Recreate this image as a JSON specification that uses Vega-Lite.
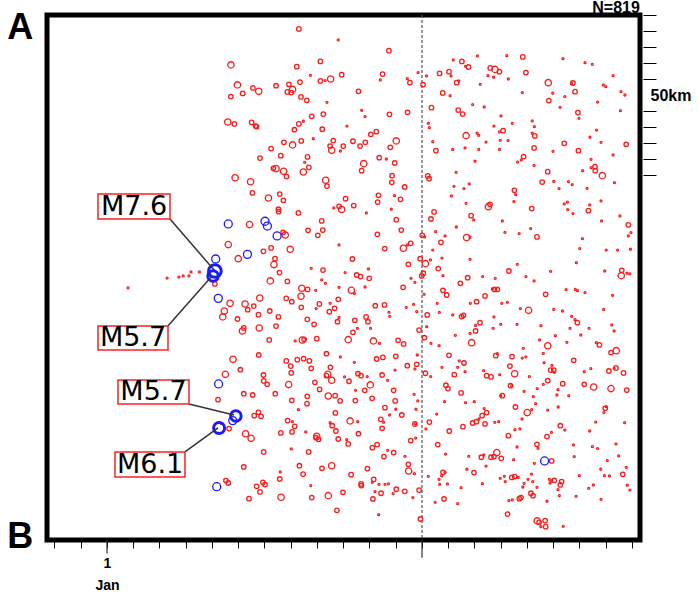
{
"$schema":"https://vega.github.io/schema/vega-lite/v6.json",
"width":593,"height":525,
"autosize":"none",
"padding":{"left":47,"top":15,"right":59,"bottom":59},
"config":{"view":{"stroke":"black","strokeWidth":5},"font":"Liberation Sans"},
"datasets":{
"quakes":[
{"day":7.31,"km":8.7,"mag":2},{"day":8.81,"km":15.6,"mag":1},{"day":10.74,"km":22.3,"mag":2},{"day":4.72,"km":31.2,"mag":2.6},{"day":7.23,"km":32.3,"mag":2},{"day":8.13,"km":29.0,"mag":2},{"day":7.75,"km":37.7,"mag":1},{"day":8.94,"km":37.3,"mag":2},{"day":10.50,"km":36.9,"mag":2},{"day":10.41,"km":40.6,"mag":1},{"day":11.85,"km":36.0,"mag":1},{"day":11.44,"km":39.8,"mag":1},{"day":11.54,"km":42.3,"mag":2},{"day":12.04,"km":43.5,"mag":2},{"day":4.97,"km":43.7,"mag":2.6},{"day":5.56,"km":45.6,"mag":2},{"day":5.78,"km":47.7,"mag":2.6},{"day":6.44,"km":44.2,"mag":2},{"day":6.93,"km":43.3,"mag":2},{"day":7.07,"km":46.5,"mag":2.6},{"day":6.87,"km":48.1,"mag":2},{"day":7.02,"km":48.5,"mag":2},{"day":7.35,"km":41.9,"mag":2},{"day":8.13,"km":41.2,"mag":2},{"day":8.31,"km":41.0,"mag":1},{"day":8.52,"km":40.0,"mag":2.6},{"day":9.58,"km":47.7,"mag":2},{"day":4.72,"km":51.0,"mag":2},{"day":5.17,"km":49.0,"mag":2},{"day":7.39,"km":51.2,"mag":2},{"day":7.61,"km":53.3,"mag":2},{"day":8.38,"km":54.6,"mag":1},{"day":9.70,"km":59.6,"mag":1},{"day":9.83,"km":63.5,"mag":1},{"day":10.76,"km":62.1,"mag":2},{"day":11.45,"km":60.8,"mag":2},{"day":4.60,"km":66.9,"mag":2.6},{"day":4.85,"km":68.1,"mag":2},{"day":5.51,"km":67.1,"mag":2},{"day":5.66,"km":69.4,"mag":2},{"day":5.70,"km":69.8,"mag":2},{"day":7.80,"km":63.3,"mag":2},{"day":8.24,"km":61.9,"mag":2},{"day":7.31,"km":68.1,"mag":2},{"day":7.48,"km":66.4,"mag":1},{"day":7.14,"km":71.7,"mag":2},{"day":8.20,"km":71.4,"mag":2},{"day":9.14,"km":69.4,"mag":1},{"day":10.05,"km":74.6,"mag":2},{"day":10.26,"km":72.9,"mag":2},{"day":11.02,"km":78.7,"mag":2.6},{"day":6.25,"km":83.5,"mag":2},{"day":6.74,"km":79.6,"mag":2},{"day":7.07,"km":81.2,"mag":2.6},{"day":7.40,"km":78.7,"mag":2},{"day":7.86,"km":77.3,"mag":1},{"day":8.62,"km":78.5,"mag":2},{"day":8.50,"km":81.9,"mag":2},{"day":8.56,"km":84.6,"mag":2.6},{"day":8.89,"km":85.0,"mag":1},{"day":9.00,"km":81.9,"mag":2},{"day":9.37,"km":78.9,"mag":2},{"day":9.64,"km":81.9,"mag":2},{"day":9.84,"km":79.6,"mag":2},{"day":10.79,"km":82.7,"mag":2},{"day":5.83,"km":89.4,"mag":2},{"day":6.62,"km":87.9,"mag":2},{"day":7.64,"km":88.7,"mag":2},{"day":7.53,"km":92.1,"mag":1},{"day":7.69,"km":95.2,"mag":2},{"day":6.34,"km":95.8,"mag":2},{"day":6.44,"km":96.0,"mag":2.6},{"day":6.73,"km":97.7,"mag":2.6},{"day":6.84,"km":101.0,"mag":2},{"day":7.48,"km":98.1,"mag":2.6},{"day":9.78,"km":92.9,"mag":2.6},{"day":9.70,"km":97.3,"mag":2},{"day":10.37,"km":89.2,"mag":2},{"day":10.64,"km":90.0,"mag":1},{"day":10.96,"km":92.5,"mag":2},{"day":4.88,"km":101.7,"mag":2.6},{"day":5.47,"km":104.2,"mag":2.6},{"day":8.33,"km":103.3,"mag":2.6},{"day":8.38,"km":106.9,"mag":2},{"day":10.86,"km":100.4,"mag":2},{"day":10.85,"km":104.6,"mag":2},{"day":11.34,"km":107.5,"mag":2},{"day":5.54,"km":111.2,"mag":2},{"day":6.15,"km":114.4,"mag":2.6},{"day":6.58,"km":111.9,"mag":2},{"day":6.72,"km":115.8,"mag":2},{"day":9.09,"km":114.8,"mag":2},{"day":8.84,"km":119.6,"mag":2},{"day":8.94,"km":121.6,"mag":2.6},{"day":8.64,"km":120.6,"mag":1},{"day":9.40,"km":119.1,"mag":2},{"day":9.88,"km":123.7,"mag":1},{"day":10.34,"km":112.7,"mag":2},{"day":10.31,"km":116.9,"mag":2},{"day":10.95,"km":112.9,"mag":1},{"day":11.18,"km":115.2,"mag":2},{"day":10.83,"km":121.4,"mag":1},{"day":6.53,"km":121.4,"mag":2},{"day":6.54,"km":122.9,"mag":2},{"day":7.29,"km":123.7,"mag":2},
{"day":5.43,"km":131.0,"mag":2.6},{"day":6.71,"km":135.8,"mag":2},{"day":6.79,"km":137.5,"mag":2.6},{"day":8.18,"km":128.7,"mag":2},{"day":8.22,"km":134.4,"mag":2},{"day":7.66,"km":134.6,"mag":2},{"day":8.03,"km":137.7,"mag":2},{"day":11.02,"km":127.9,"mag":2},{"day":11.21,"km":134.4,"mag":2},{"day":10.30,"km":137.1,"mag":2},{"day":4.62,"km":143.5,"mag":2.6},{"day":5.00,"km":152.3,"mag":2.6},{"day":5.96,"km":147.7,"mag":2},{"day":6.25,"km":145.6,"mag":2},{"day":6.98,"km":146.4,"mag":2.6},{"day":6.40,"km":152.3,"mag":2},{"day":6.36,"km":156.0,"mag":2.6},{"day":8.84,"km":143.7,"mag":1},{"day":9.35,"km":152.5,"mag":2},{"day":10.58,"km":146.0,"mag":2},{"day":11.29,"km":145.8,"mag":2.6},{"day":11.44,"km":143.7,"mag":1},{"day":11.57,"km":142.7,"mag":2},{"day":11.93,"km":152.3,"mag":2},{"day":11.48,"km":155.8,"mag":2},{"day":3.52,"km":160.6,"mag":1},{"day":7.78,"km":158.3,"mag":1},{"day":8.23,"km":159.4,"mag":2},{"day":9.07,"km":161.0,"mag":1},{"day":9.96,"km":158.7,"mag":1},{"day":6.57,"km":161.0,"mag":2},{"day":12.05,"km":161.4,"mag":2},
{"day":14.11,"km":25.6,"mag":1},{"day":15.23,"km":25.4,"mag":1},{"day":15.84,"km":26.2,"mag":2},{"day":17.37,"km":27.3,"mag":1},{"day":18.21,"km":29.8,"mag":1},{"day":18.49,"km":30.8,"mag":1},{"day":13.19,"km":28.1,"mag":1},{"day":13.52,"km":29.0,"mag":2},{"day":13.66,"km":32.1,"mag":1},{"day":13.77,"km":32.5,"mag":2},{"day":14.60,"km":33.1,"mag":2},{"day":14.78,"km":34.0,"mag":2.6},{"day":14.95,"km":35.4,"mag":2},{"day":12.17,"km":38.1,"mag":1},{"day":12.67,"km":36.5,"mag":2},{"day":13.03,"km":35.4,"mag":2},{"day":13.11,"km":38.1,"mag":1},{"day":14.51,"km":37.9,"mag":1},{"day":14.73,"km":38.9,"mag":1},{"day":15.29,"km":40.0,"mag":1},{"day":15.96,"km":36.0,"mag":2},{"day":13.32,"km":42.3,"mag":2},{"day":13.40,"km":41.2,"mag":1},{"day":14.22,"km":43.3,"mag":1},{"day":16.81,"km":42.3,"mag":2.6},{"day":17.70,"km":42.9,"mag":1},{"day":17.75,"km":42.5,"mag":2},{"day":19.28,"km":37.9,"mag":1},{"day":18.91,"km":43.7,"mag":1},{"day":19.00,"km":44.8,"mag":1},{"day":12.79,"km":48.7,"mag":2},{"day":13.07,"km":50.4,"mag":1},{"day":15.82,"km":48.5,"mag":1},{"day":16.98,"km":48.9,"mag":1},{"day":17.44,"km":51.0,"mag":1},{"day":17.83,"km":47.9,"mag":2},{"day":19.58,"km":47.9,"mag":1},{"day":19.73,"km":50.0,"mag":1},{"day":12.36,"km":57.9,"mag":2},{"day":13.38,"km":59.4,"mag":2},{"day":13.55,"km":61.9,"mag":2},{"day":13.93,"km":56.0,"mag":1},{"day":14.37,"km":57.5,"mag":1},{"day":16.83,"km":53.5,"mag":2},{"day":17.26,"km":57.7,"mag":1},{"day":17.94,"km":61.0,"mag":2},{"day":17.98,"km":64.6,"mag":1},{"day":18.69,"km":54.4,"mag":1},{"day":19.56,"km":59.8,"mag":1},{"day":15.01,"km":63.1,"mag":1},{"day":12.24,"km":67.7,"mag":1},{"day":12.28,"km":70.4,"mag":1},{"day":14.74,"km":69.4,"mag":1},{"day":15.09,"km":72.3,"mag":2},{"day":14.95,"km":73.1,"mag":1},{"day":15.44,"km":67.7,"mag":1},{"day":16.20,"km":66.2,"mag":1},{"day":16.28,"km":69.8,"mag":1},{"day":16.20,"km":73.9,"mag":1},{"day":16.30,"km":75.6,"mag":2},{"day":13.68,"km":75.4,"mag":2.6},{"day":14.10,"km":73.9,"mag":1},{"day":14.16,"km":75.2,"mag":1},{"day":12.41,"km":79.2,"mag":1},{"day":14.44,"km":79.4,"mag":1},{"day":14.98,"km":78.3,"mag":1},{"day":15.28,"km":78.5,"mag":1},{"day":18.65,"km":71.9,"mag":1},{"day":18.40,"km":76.4,"mag":1},{"day":18.82,"km":79.6,"mag":1},{"day":19.78,"km":80.8,"mag":2},{"day":17.42,"km":80.2,"mag":2},{"day":12.53,"km":84.8,"mag":2},{"day":13.17,"km":84.0,"mag":1},{"day":13.64,"km":83.1,"mag":1},{"day":14.16,"km":84.0,"mag":1},{"day":14.95,"km":84.0,"mag":1},{"day":16.27,"km":83.1,"mag":2},{"day":16.99,"km":85.2,"mag":1},{"day":17.96,"km":84.8,"mag":2},{"day":14.02,"km":91.4,"mag":1},{"day":15.64,"km":91.9,"mag":1},{"day":15.78,"km":90.6,"mag":1},{"day":15.87,"km":88.5,"mag":2},{"day":16.27,"km":94.0,"mag":1},{"day":18.44,"km":90.2,"mag":1},{"day":19.28,"km":87.5,"mag":1},{"day":18.59,"km":94.8,"mag":2},{"day":18.60,"km":97.3,"mag":2},{"day":18.44,"km":95.4,"mag":1},{"day":18.87,"km":100.4,"mag":2.6},{"day":12.22,"km":100.6,"mag":2},{"day":12.27,"km":102.3,"mag":2},{"day":13.30,"km":98.3,"mag":1},{"day":16.79,"km":97.9,"mag":2},{"day":16.58,"km":104.4,"mag":2},{"day":17.02,"km":104.0,"mag":1},{"day":17.58,"km":104.2,"mag":1},{"day":17.72,"km":106.0,"mag":1},{"day":18.12,"km":97.3,"mag":1},{"day":19.33,"km":104.8,"mag":1},{"day":13.22,"km":107.1,"mag":1},{"day":13.60,"km":108.5,"mag":1},{"day":13.80,"km":105.6,"mag":1},{"day":13.12,"km":113.1,"mag":1},{"day":15.52,"km":109.6,"mag":2},{"day":15.57,"km":112.3,"mag":1},{"day":17.22,"km":108.5,"mag":1},{"day":18.29,"km":108.3,"mag":1},{"day":13.68,"km":117.7,"mag":1},{"day":14.59,"km":118.3,"mag":2},{"day":14.53,"km":119.8,"mag":2.6},{"day":15.50,"km":116.6,"mag":1},{"day":16.18,"km":121.0,"mag":2},{"day":17.42,"km":118.1,"mag":1},{"day":17.54,"km":116.9,"mag":1},{"day":17.55,"km":121.6,"mag":1},{"day":17.75,"km":124.1,"mag":1},{"day":18.34,"km":122.3,"mag":2},{"day":18.39,"km":118.7,"mag":1},{"day":18.82,"km":116.2,"mag":1},{"day":12.46,"km":123.1,"mag":2},{"day":12.34,"km":127.5,"mag":2},{"day":13.87,"km":125.4,"mag":2},{"day":13.97,"km":128.1,"mag":1},{"day":15.06,"km":128.7,"mag":1},{"day":13.31,"km":132.5,"mag":1},{"day":16.14,"km":133.5,"mag":1},{"day":18.84,"km":128.7,"mag":1},{"day":19.54,"km":125.6,"mag":1},{"day":19.86,"km":131.2,"mag":2},{"day":12.52,"km":135.4,"mag":1},{"day":12.01,"km":137.7,"mag":2},{"day":12.10,"km":138.7,"mag":1},{"day":12.88,"km":138.1,"mag":1},{"day":12.72,"km":142.1,"mag":2},{"day":13.70,"km":139.1,"mag":2.6},{"day":13.83,"km":138.9,"mag":1},{"day":15.16,"km":135.8,"mag":1},{"day":15.70,"km":136.6,"mag":1},{"day":16.38,"km":138.7,"mag":2},{"day":18.11,"km":139.8,"mag":1},{"day":19.96,"km":136.0,"mag":1},{"day":19.86,"km":138.1,"mag":1},{"day":12.41,"km":146.9,"mag":1},{"day":18.01,"km":146.0,"mag":1},{"day":19.02,"km":146.9,"mag":1},{"day":19.45,"km":146.9,"mag":1},{"day":19.94,"km":146.4,"mag":1},{"day":12.76,"km":151.9,"mag":1},{"day":13.83,"km":152.7,"mag":1},{"day":12.13,"km":155.4,"mag":2.6},{"day":12.32,"km":153.1,"mag":1},{"day":15.63,"km":155.8,"mag":1},{"day":17.88,"km":154.8,"mag":1},{"day":12.62,"km":158.5,"mag":2},{"day":15.31,"km":160.0,"mag":2},{"day":16.90,"km":160.2,"mag":1},{"day":18.96,"km":160.0,"mag":1},{"day":19.61,"km":159.6,"mag":2},{"day":19.81,"km":161.4,"mag":1},{"day":19.92,"km":161.8,"mag":1},
{"day":4.11,"km":168.1,"mag":2},{"day":6.22,"km":166.2,"mag":2.6},{"day":6.87,"km":166.5,"mag":2},{"day":8.18,"km":165.6,"mag":1},{"day":8.32,"km":167.7,"mag":1},{"day":9.51,"km":162.5,"mag":2},{"day":9.66,"km":163.5,"mag":2},{"day":9.99,"km":164.6,"mag":2},{"day":11.58,"km":164.6,"mag":1},{"day":11.73,"km":167.1,"mag":1},{"day":7.42,"km":170.8,"mag":2.6},{"day":7.64,"km":171.5,"mag":2},{"day":7.95,"km":172.1,"mag":1},{"day":8.84,"km":170.2,"mag":1},{"day":9.31,"km":172.1,"mag":2.6},{"day":9.42,"km":174.0,"mag":1},{"day":9.83,"km":170.0,"mag":1},{"day":11.28,"km":170.2,"mag":2},{"day":5.82,"km":176.9,"mag":2.6},{"day":6.83,"km":177.1,"mag":2},{"day":7.04,"km":179.2,"mag":2},{"day":7.39,"km":175.8,"mag":2.6},{"day":4.69,"km":180.2,"mag":2.6},{"day":5.26,"km":180.6,"mag":2.6},{"day":5.59,"km":181.9,"mag":2},{"day":5.36,"km":184.2,"mag":2},{"day":4.47,"km":185.0,"mag":2.6},{"day":4.41,"km":188.7,"mag":2.6},{"day":4.97,"km":190.0,"mag":2},{"day":5.77,"km":187.3,"mag":2},{"day":6.20,"km":185.0,"mag":2},{"day":6.53,"km":188.7,"mag":2},{"day":7.40,"km":182.7,"mag":2},{"day":7.97,"km":183.5,"mag":1},{"day":8.09,"km":180.6,"mag":2},{"day":8.50,"km":180.2,"mag":1},{"day":8.67,"km":183.3,"mag":2},{"day":8.81,"km":177.7,"mag":2},{"day":8.47,"km":185.4,"mag":2},{"day":8.84,"km":189.0,"mag":1},{"day":8.78,"km":191.7,"mag":2},{"day":9.44,"km":190.8,"mag":2},{"day":9.87,"km":188.7,"mag":2},{"day":9.94,"km":191.7,"mag":2},{"day":10.04,"km":195.8,"mag":1},{"day":9.54,"km":195.8,"mag":1},{"day":9.37,"km":198.3,"mag":2},{"day":10.22,"km":181.7,"mag":2},{"day":10.57,"km":181.2,"mag":2},{"day":10.74,"km":185.8,"mag":1},{"day":10.77,"km":188.3,"mag":1},{"day":11.40,"km":182.7,"mag":1},{"day":11.68,"km":180.8,"mag":1},{"day":11.80,"km":185.4,"mag":1},{"day":5.21,"km":195.6,"mag":2},{"day":5.16,"km":197.5,"mag":2.6},{"day":5.80,"km":195.6,"mag":2.6},{"day":6.44,"km":194.4,"mag":2},{"day":7.63,"km":190.2,"mag":2},{"day":7.89,"km":193.3,"mag":2},{"day":6.18,"km":203.1,"mag":2},{"day":7.17,"km":203.7,"mag":1},{"day":7.44,"km":203.1,"mag":2.6},{"day":7.51,"km":202.7,"mag":2},{"day":7.99,"km":202.3,"mag":2},{"day":9.19,"km":202.9,"mag":2.6},{"day":10.15,"km":203.7,"mag":2.6},{"day":10.38,"km":205.2,"mag":1},{"day":11.09,"km":203.3,"mag":2},{"day":11.30,"km":205.6,"mag":2},{"day":11.89,"km":196.9,"mag":2},{"day":4.80,"km":215.2,"mag":2.6},{"day":5.08,"km":221.7,"mag":2},{"day":4.51,"km":224.6,"mag":2.6},{"day":5.78,"km":212.5,"mag":2},{"day":5.96,"km":225.0,"mag":2},{"day":5.97,"km":228.7,"mag":2},{"day":6.10,"km":230.8,"mag":2},{"day":6.83,"km":216.2,"mag":2},{"day":7.00,"km":219.4,"mag":2},{"day":7.02,"km":223.7,"mag":2},{"day":7.25,"km":215.4,"mag":2},{"day":7.49,"km":214.8,"mag":2},{"day":7.71,"km":216.2,"mag":2},{"day":7.78,"km":220.8,"mag":2},{"day":8.36,"km":211.7,"mag":2},{"day":8.51,"km":220.2,"mag":2},{"day":8.41,"km":224.6,"mag":2.6},{"day":8.36,"km":225.4,"mag":2},{"day":8.56,"km":228.3,"mag":2.6},{"day":8.89,"km":213.7,"mag":1},{"day":9.05,"km":226.2,"mag":1},{"day":9.22,"km":228.9,"mag":2},{"day":9.56,"km":224.2,"mag":2},{"day":9.68,"km":225.4,"mag":2},{"day":9.91,"km":226.0,"mag":1},{"day":9.42,"km":217.1,"mag":1},{"day":10.27,"km":215.0,"mag":2},{"day":10.51,"km":214.0,"mag":2},{"day":11.00,"km":213.3,"mag":2},{"day":10.48,"km":225.0,"mag":2},{"day":10.69,"km":228.3,"mag":1},{"day":10.97,"km":221.9,"mag":1},{"day":11.44,"km":219.2,"mag":2},{"day":11.80,"km":218.3,"mag":2},{"day":11.82,"km":212.5,"mag":1},{"day":11.73,"km":221.2,"mag":1},{"day":4.23,"km":240.4,"mag":2},{"day":5.21,"km":236.7,"mag":2},{"day":5.55,"km":237.5,"mag":2},{"day":6.41,"km":236.7,"mag":2},{"day":6.92,"km":231.0,"mag":2.6},{"day":7.92,"km":229.6,"mag":2},{"day":8.10,"km":234.0,"mag":2},{"day":7.63,"km":238.3,"mag":2},{"day":7.62,"km":242.9,"mag":2},{"day":7.04,"km":240.8,"mag":2},{"day":7.29,"km":246.7,"mag":1},{"day":8.43,"km":238.1,"mag":2.6},{"day":8.69,"km":237.9,"mag":2},{"day":8.88,"km":241.2,"mag":2},{"day":9.47,"km":234.6,"mag":1},{"day":9.82,"km":234.6,"mag":2},{"day":10.03,"km":231.2,"mag":2.6},{"day":10.10,"km":239.6,"mag":2},{"day":9.46,"km":241.0,"mag":2},{"day":10.92,"km":234.6,"mag":2},{"day":10.98,"km":241.2,"mag":2},{"day":10.59,"km":245.4,"mag":2},{"day":11.00,"km":246.4,"mag":1},{"day":11.23,"km":250.0,"mag":2},{"day":10.77,"km":250.0,"mag":1},{"day":11.70,"km":237.1,"mag":1},{"day":11.84,"km":241.2,"mag":1},{"day":11.77,"km":246.4,"mag":1},
{"day":4.65,"km":258.5,"mag":2},{"day":4.36,"km":255.4,"mag":1},{"day":5.61,"km":250.4,"mag":2},{"day":5.77,"km":248.3,"mag":2},{"day":5.87,"km":250.8,"mag":2},{"day":5.28,"km":261.7,"mag":2.6},{"day":5.49,"km":264.6,"mag":2.6},{"day":5.97,"km":273.1,"mag":2},{"day":6.88,"km":253.5,"mag":2},{"day":7.06,"km":254.2,"mag":1},{"day":7.15,"km":257.1,"mag":2},{"day":6.62,"km":261.2,"mag":2},{"day":7.05,"km":260.6,"mag":2},{"day":7.57,"km":260.6,"mag":1},{"day":7.99,"km":263.3,"mag":2.6},{"day":8.06,"km":265.2,"mag":2},{"day":7.96,"km":264.2,"mag":2},{"day":7.68,"km":273.1,"mag":2},{"day":7.02,"km":271.2,"mag":1},{"day":8.70,"km":248.7,"mag":2},{"day":8.50,"km":254.8,"mag":1},{"day":8.58,"km":256.7,"mag":2},{"day":8.72,"km":260.0,"mag":2},{"day":8.81,"km":265.0,"mag":2},{"day":9.13,"km":265.4,"mag":1},{"day":9.19,"km":268.1,"mag":2},{"day":9.26,"km":253.7,"mag":2.6},{"day":9.55,"km":254.2,"mag":1},{"day":9.58,"km":261.7,"mag":2},{"day":10.11,"km":270.4,"mag":2},{"day":10.29,"km":268.5,"mag":2},{"day":10.43,"km":252.7,"mag":2},{"day":10.54,"km":254.6,"mag":1},{"day":10.48,"km":258.3,"mag":2},{"day":10.69,"km":272.1,"mag":1},{"day":10.92,"km":273.5,"mag":2},{"day":10.55,"km":276.0,"mag":2},{"day":11.35,"km":275.8,"mag":1},{"day":11.48,"km":280.8,"mag":2},{"day":11.49,"km":285.0,"mag":2.6},{"day":11.71,"km":286.7,"mag":1},{"day":11.57,"km":266.0,"mag":2},{"day":11.76,"km":264.4,"mag":1},{"day":11.73,"km":255.6,"mag":2},{"day":5.21,"km":282.5,"mag":2},{"day":6.60,"km":285.6,"mag":1},{"day":6.58,"km":290.0,"mag":2},{"day":7.33,"km":281.7,"mag":2},{"day":7.47,"km":286.9,"mag":2},{"day":8.19,"km":283.3,"mag":2},{"day":8.56,"km":281.7,"mag":2.6},{"day":9.30,"km":287.3,"mag":2},{"day":9.92,"km":283.5,"mag":2},{"day":10.16,"km":290.2,"mag":2},{"day":10.11,"km":292.1,"mag":1},{"day":9.68,"km":293.1,"mag":2},{"day":9.69,"km":294.1,"mag":2},{"day":10.36,"km":293.3,"mag":1},{"day":10.59,"km":293.3,"mag":1},{"day":10.72,"km":293.1,"mag":1},{"day":11.02,"km":296.4,"mag":2},{"day":10.90,"km":299.1,"mag":1},{"day":11.34,"km":297.7,"mag":2},{"day":10.44,"km":298.9,"mag":2},{"day":10.21,"km":297.9,"mag":1},{"day":10.13,"km":302.5,"mag":2},{"day":8.99,"km":298.3,"mag":2},{"day":8.43,"km":300.4,"mag":2.6},{"day":7.80,"km":301.6,"mag":2},{"day":7.76,"km":294.1,"mag":1},{"day":6.63,"km":301.4,"mag":2.6},{"day":5.70,"km":294.6,"mag":2},{"day":5.83,"km":298.1,"mag":2},{"day":5.94,"km":292.1,"mag":2},{"day":6.02,"km":293.5,"mag":2},{"day":5.41,"km":302.3,"mag":2},{"day":4.53,"km":291.0,"mag":2},{"day":4.62,"km":292.5,"mag":2},{"day":8.76,"km":309.6,"mag":2},{"day":10.35,"km":312.3,"mag":1},{"day":11.65,"km":301.6,"mag":1},{"day":11.94,"km":315.0,"mag":2},
{"day":11.99,"km":163.1,"mag":2},{"day":12.80,"km":162.9,"mag":1},{"day":13.46,"km":167.7,"mag":2},{"day":13.74,"km":164.2,"mag":2},{"day":14.31,"km":163.5,"mag":1},{"day":14.79,"km":164.6,"mag":1},{"day":15.96,"km":163.5,"mag":1},{"day":16.27,"km":166.2,"mag":1},{"day":19.59,"km":162.9,"mag":2.6},{"day":12.80,"km":172.1,"mag":2},{"day":12.94,"km":175.0,"mag":2},{"day":12.08,"km":174.6,"mag":1},{"day":12.58,"km":180.2,"mag":1},{"day":14.08,"km":179.2,"mag":2},{"day":14.40,"km":175.6,"mag":2},{"day":13.84,"km":180.2,"mag":1},{"day":14.68,"km":171.2,"mag":1},{"day":14.76,"km":171.5,"mag":2},{"day":14.87,"km":171.5,"mag":2},{"day":15.04,"km":180.2,"mag":1},{"day":15.25,"km":179.6,"mag":1},{"day":16.71,"km":174.6,"mag":2},{"day":17.49,"km":171.7,"mag":1},{"day":17.84,"km":171.5,"mag":1},{"day":17.92,"km":172.3,"mag":1},{"day":18.21,"km":173.5,"mag":1},{"day":19.26,"km":175.2,"mag":1},{"day":12.20,"km":187.5,"mag":2},{"day":12.66,"km":185.8,"mag":1},{"day":13.17,"km":187.5,"mag":1},{"day":13.51,"km":188.5,"mag":2},{"day":13.58,"km":187.7,"mag":2},{"day":14.04,"km":194.0,"mag":1},{"day":14.21,"km":192.3,"mag":2},{"day":14.74,"km":188.7,"mag":1},{"day":15.75,"km":183.5,"mag":1},{"day":16.06,"km":184.6,"mag":2.6},{"day":17.02,"km":184.0,"mag":1},{"day":17.35,"km":185.0,"mag":1},{"day":17.70,"km":188.3,"mag":1},{"day":17.83,"km":190.4,"mag":1},{"day":17.92,"km":192.3,"mag":2},{"day":18.92,"km":184.0,"mag":1},{"day":12.18,"km":194.8,"mag":1},{"day":12.09,"km":201.7,"mag":2},{"day":12.34,"km":205.2,"mag":1},{"day":12.65,"km":206.7,"mag":1},{"day":13.27,"km":200.2,"mag":1},{"day":13.83,"km":199.0,"mag":1},{"day":14.04,"km":197.5,"mag":2},{"day":14.71,"km":195.8,"mag":1},{"day":15.00,"km":193.3,"mag":1},{"day":15.62,"km":193.3,"mag":1},{"day":16.53,"km":194.2,"mag":1},{"day":17.64,"km":195.8,"mag":1},{"day":18.05,"km":200.0,"mag":1},{"day":18.36,"km":195.8,"mag":1},{"day":19.23,"km":193.7,"mag":1},{"day":19.32,"km":197.5,"mag":1},{"day":13.89,"km":204.8,"mag":2.6},{"day":17.08,"km":200.4,"mag":1},{"day":16.48,"km":203.1,"mag":1},{"day":16.79,"km":206.7,"mag":2.6},{"day":17.52,"km":204.6,"mag":1},{"day":18.64,"km":204.8,"mag":1},{"day":18.76,"km":206.2,"mag":2},{"day":19.40,"km":209.8,"mag":2.6},{"day":19.20,"km":211.0,"mag":2},{"day":13.03,"km":212.7,"mag":2},{"day":13.42,"km":216.2,"mag":1},{"day":13.60,"km":217.5,"mag":2},{"day":13.36,"km":220.2,"mag":1},{"day":12.76,"km":220.2,"mag":1},{"day":12.13,"km":223.9,"mag":2},{"day":12.33,"km":226.0,"mag":1},{"day":13.23,"km":224.8,"mag":2},{"day":13.64,"km":222.9,"mag":1},{"day":14.35,"km":222.3,"mag":1},{"day":14.46,"km":225.4,"mag":2},{"day":14.63,"km":226.2,"mag":2},{"day":14.81,"km":212.9,"mag":2},{"day":14.87,"km":211.7,"mag":1},{"day":15.43,"km":213.5,"mag":2},{"day":15.82,"km":214.4,"mag":1},{"day":15.96,"km":213.7,"mag":1},{"day":15.86,"km":208.3,"mag":1},{"day":15.35,"km":219.4,"mag":2},{"day":15.53,"km":224.2,"mag":2.6},{"day":14.96,"km":224.8,"mag":1},{"day":16.09,"km":226.0,"mag":1},{"day":16.62,"km":211.5,"mag":1},{"day":16.65,"km":217.3,"mag":1},{"day":16.95,"km":219.0,"mag":1},{"day":16.90,"km":221.9,"mag":2},{"day":17.02,"km":221.9,"mag":2},{"day":17.04,"km":223.3,"mag":1},{"day":17.78,"km":215.8,"mag":2},{"day":18.18,"km":222.9,"mag":1},{"day":18.43,"km":221.0,"mag":1},{"day":19.12,"km":222.5,"mag":2},{"day":19.32,"km":220.8,"mag":1},{"day":19.39,"km":220.6,"mag":2},{"day":19.68,"km":223.7,"mag":2},{"day":16.79,"km":228.5,"mag":2},{"day":16.62,"km":230.8,"mag":1},{"day":17.36,"km":230.4,"mag":2},{"day":15.37,"km":231.7,"mag":2},{"day":15.42,"km":231.7,"mag":1},{"day":15.89,"km":235.2,"mag":1},{"day":16.39,"km":233.5,"mag":1},{"day":17.18,"km":234.2,"mag":1},{"day":17.59,"km":237.9,"mag":1},{"day":17.14,"km":237.5,"mag":1},{"day":16.24,"km":238.5,"mag":1},{"day":18.18,"km":230.8,"mag":2},{"day":18.54,"km":232.5,"mag":2.6},{"day":19.20,"km":233.5,"mag":2.6},{"day":19.80,"km":234.4,"mag":2},{"day":12.91,"km":231.4,"mag":2},{"day":12.99,"km":233.5,"mag":2},{"day":13.49,"km":236.2,"mag":2},{"day":12.86,"km":241.7,"mag":1},{"day":13.66,"km":242.3,"mag":1},{"day":13.99,"km":241.7,"mag":1},{"day":14.37,"km":246.0,"mag":1},{"day":14.46,"km":248.5,"mag":2},{"day":14.29,"km":250.4,"mag":2},{"day":14.07,"km":254.2,"mag":2},{"day":13.93,"km":255.0,"mag":2},{"day":14.40,"km":255.6,"mag":2},{"day":14.17,"km":252.5,"mag":1},{"day":13.56,"km":257.3,"mag":2},{"day":13.04,"km":260.0,"mag":2},{"day":12.56,"km":249.4,"mag":1},{"day":12.28,"km":254.4,"mag":2},{"day":12.15,"km":258.7,"mag":1},{"day":11.75,"km":255.4,"mag":1},{"day":14.77,"km":254.6,"mag":1},{"day":14.92,"km":254.2,"mag":1},{"day":15.06,"km":237.9,"mag":2},{"day":15.00,"km":237.9,"mag":1},{"day":15.56,"km":245.0,"mag":2},{"day":15.81,"km":252.5,"mag":1},{"day":16.01,"km":248.5,"mag":2.6},{"day":16.18,"km":246.7,"mag":1},{"day":16.33,"km":242.9,"mag":1},{"day":16.79,"km":246.9,"mag":1},{"day":17.19,"km":245.0,"mag":1},{"day":17.27,"km":256.7,"mag":2},{"day":16.93,"km":260.8,"mag":1},{"day":16.76,"km":263.5,"mag":2},{"day":17.44,"km":259.4,"mag":1},{"day":18.39,"km":260.0,"mag":1},{"day":18.62,"km":254.4,"mag":1},{"day":18.98,"km":245.8,"mag":2},{"day":19.02,"km":244.8,"mag":1},{"day":18.93,"km":248.5,"mag":1},{"day":19.72,"km":254.8,"mag":1},{"day":15.29,"km":262.9,"mag":2},{"day":15.54,"km":259.2,"mag":1},{"day":15.73,"km":258.7,"mag":1},{"day":12.60,"km":268.5,"mag":2},{"day":12.90,"km":274.4,"mag":1},{"day":13.78,"km":275.8,"mag":1},{"day":14.26,"km":276.4,"mag":2},{"day":14.36,"km":275.0,"mag":1},{"day":14.44,"km":281.9,"mag":1},{"day":14.63,"km":276.4,"mag":2},{"day":14.74,"km":276.0,"mag":2},{"day":14.85,"km":273.5,"mag":2.6},{"day":15.02,"km":277.1,"mag":2},{"day":15.49,"km":277.9,"mag":1},{"day":15.62,"km":270.0,"mag":1},{"day":16.28,"km":280.2,"mag":1},{"day":16.38,"km":268.3,"mag":2},{"day":16.42,"km":270.8,"mag":1},{"day":16.94,"km":278.7,"mag":2},{"day":17.77,"km":268.7,"mag":1},{"day":17.80,"km":276.0,"mag":1},{"day":18.49,"km":269.8,"mag":1},{"day":18.69,"km":271.0,"mag":1},{"day":19.39,"km":268.1,"mag":1},{"day":19.49,"km":275.6,"mag":1},{"day":19.06,"km":278.5,"mag":1},{"day":18.81,"km":283.9,"mag":1},{"day":18.95,"km":287.9,"mag":1},{"day":19.14,"km":288.1,"mag":1},{"day":19.65,"km":287.1,"mag":2},{"day":19.78,"km":282.7,"mag":1},{"day":19.82,"km":293.9,"mag":1},{"day":19.92,"km":296.9,"mag":1},{"day":12.24,"km":288.3,"mag":1},{"day":12.65,"km":290.2,"mag":1},{"day":12.67,"km":293.3,"mag":1},{"day":12.80,"km":285.8,"mag":2},{"day":12.88,"km":285.8,"mag":1},{"day":12.75,"km":287.9,"mag":1},{"day":12.97,"km":293.1,"mag":1},{"day":13.49,"km":295.4,"mag":1},{"day":13.71,"km":283.9,"mag":1},{"day":13.98,"km":286.0,"mag":2},{"day":14.30,"km":292.9,"mag":1},{"day":14.98,"km":289.6,"mag":1},{"day":15.14,"km":288.3,"mag":1},{"day":15.17,"km":291.6,"mag":1},{"day":15.42,"km":289.0,"mag":2},{"day":15.53,"km":288.5,"mag":2},{"day":15.67,"km":289.0,"mag":1},{"day":15.84,"km":295.0,"mag":1},{"day":16.04,"km":290.2,"mag":1},{"day":16.17,"km":286.9,"mag":1},{"day":15.89,"km":292.7,"mag":1},{"day":16.22,"km":291.6,"mag":1},{"day":16.38,"km":295.2,"mag":1},{"day":16.15,"km":298.9,"mag":2},{"day":16.23,"km":300.4,"mag":2},{"day":15.31,"km":303.5,"mag":1},{"day":15.44,"km":303.1,"mag":1},{"day":15.71,"km":302.3,"mag":2},{"day":15.77,"km":301.6,"mag":2},{"day":16.76,"km":303.9,"mag":1},{"day":16.85,"km":290.2,"mag":1},{"day":16.88,"km":292.5,"mag":1},{"day":16.94,"km":291.2,"mag":1},{"day":17.04,"km":290.8,"mag":2},{"day":17.32,"km":291.6,"mag":2},{"day":17.27,"km":293.7,"mag":2},{"day":17.18,"km":296.6,"mag":1},{"day":17.23,"km":300.4,"mag":1},{"day":17.87,"km":300.8,"mag":1},{"day":17.99,"km":287.9,"mag":1},{"day":18.35,"km":295.8,"mag":1},{"day":18.53,"km":293.7,"mag":1},{"day":18.82,"km":302.7,"mag":1},{"day":11.89,"km":296.9,"mag":2},{"day":12.50,"km":304.6,"mag":1},{"day":12.84,"km":302.5,"mag":2},{"day":13.36,"km":305.4,"mag":1},{"day":15.26,"km":311.9,"mag":2},{"day":16.39,"km":316.2,"mag":2.6},{"day":16.46,"km":317.1,"mag":2},{"day":16.69,"km":316.0,"mag":2},{"day":16.71,"km":319.8,"mag":2},{"day":16.53,"km":319.8,"mag":1},{"day":17.38,"km":319.6,"mag":1},
{"day":0.80,"km":170.6,"mag":1},{"day":2.29,"km":164.4,"mag":1},{"day":2.74,"km":163.8,"mag":1},{"day":2.90,"km":163.1,"mag":1},{"day":3.12,"km":163.1,"mag":1},{"day":3.20,"km":160.6,"mag":1},
{"day":4.62,"km":130.6,"mag":4},{"day":6.02,"km":128.9,"mag":4},{"day":6.11,"km":131.9,"mag":4},{"day":6.48,"km":138.1,"mag":4},{"day":5.35,"km":149.6,"mag":4},{"day":4.14,"km":152.5,"mag":4},{"day":4.24,"km":177.1,"mag":4},{"day":4.25,"km":230.6,"mag":4},{"day":4.79,"km":253.5,"mag":4},{"day":4.18,"km":294.8,"mag":4},{"day":16.67,"km":278.7,"mag":4},
{"day":4.11,"km":160.0,"mag":7.6},{"day":4.04,"km":163.1,"mag":5.7},{"day":4.91,"km":250.6,"mag":5.7},{"day":4.27,"km":258.1,"mag":6.1}
],
"cut":[{"day":12,"km":0,"km2":328.125}],
"longticks":[{"day":0,"km":328.125,"km2":336.5},{"day":12,"km":328.125,"km2":339.2}],
"links":[{"day":2.40,"km":127.5,"day2":4.08,"km2":159.4},{"day":2.32,"km":194.4,"day2":4.0,"km2":163.1},{"day":3.12,"km":243.1,"day2":4.84,"km2":250.0},{"day":2.97,"km":273.1,"day2":4.23,"km2":258.1}],
"boxes":[{"day":-0.343,"day2":2.40,"km":111.9,"km2":127.5},{"day":-0.343,"day2":2.324,"km":194.4,"km2":209.4},{"day":0.419,"day2":3.124,"km":228.1,"km2":243.1},{"day":0.305,"day2":2.971,"km":273.1,"km2":288.8}],
"tags":[{"label":"M7.6","day":1.03,"km":119.9},{"label":"M5.7","day":0.99,"km":202.1},{"label":"M5.7","day":1.77,"km":235.8},{"label":"M6.1","day":1.64,"km":281.1}],
"letters":[{"label":"A","day":-3.30,"km":15.0},{"label":"B","day":-3.30,"km":333.3}],
"count":[{"label":"N=819","day":20.30,"km":-1.3}]
},
"encoding":{
"x":{"field":"day","type":"quantitative","scale":{"domain":[-2.2857,20.3048],"nice":false,"zero":false},
"axis":{"values":[-2,-1,0,1,2,3,4,5,6,7,8,9,10,11,12,13,14,15,16,17,18,19,20],"grid":false,"domain":false,"title":"Jan","titleX":60,"titleY":45,"titleAlign":"center","titleBaseline":"middle","titleFont":"Liberation Sans","titleFontSize":14,"titleFontWeight":"bold","titleColor":"black","tickColor":"black","tickWidth":1,"tickSize":8,
"labelExpr":"datum.value == 0 ? '1' : ''","labelFont":"Liberation Sans","labelFontSize":14,"labelFontWeight":"bold","labelPadding":8,"labelOverlap":false,"labelFlush":false,"labelColor":"black"}},
"y":{"field":"km","type":"quantitative","scale":{"domain":[0,328.125],"reverse":true,"nice":false,"zero":false},
"axis":{"orient":"right","values":[0,10,20,30,40,50,60,70,80,90,100],"grid":false,"domain":false,"title":null,"offset":3,"tickSize":13,"tickColor":"black","tickWidth":1,
"tickOpacity":{"condition":{"test":"datum.value == 50","value":0},"value":1},
"labelExpr":"datum.value == 50 ? '50km' : ''","labelPadding":-6,"labelFont":"Liberation Sans","labelFontSize":16,"labelFontWeight":"bold","labelColor":"black","labelFlush":false,"labelOverlap":false}}
},
"layer":[
{"data":{"name":"cut"},"mark":{"type":"rule","color":"#555555","strokeWidth":1.2,"strokeDash":[3,2]},"encoding":{"y2":{"field":"km2"}}},
{"data":{"name":"longticks"},"mark":{"type":"rule","color":"#333333","strokeWidth":1.2},"encoding":{"y2":{"field":"km2"}}},
{"data":{"name":"quakes"},"mark":{"type":"point","shape":"circle","filled":false,"opacity":1},
"encoding":{
"size":{"field":"mag","type":"quantitative","scale":{"domain":[1,2,2.6,4,7.6],"range":[4,20,40,64,160]},"legend":null},
"color":{"field":"mag","type":"quantitative","scale":{"type":"threshold","domain":[3.5],"range":["#ff1a1a","#1a1aff"]},"legend":null},
"strokeWidth":{"field":"mag","type":"quantitative","scale":{"type":"threshold","domain":[5],"range":[1.3,3]},"legend":null}}},
{"data":{"name":"links"},"mark":{"type":"rule","color":"#333333","strokeWidth":1.5},"encoding":{"x2":{"field":"day2"},"y2":{"field":"km2"}}},
{"data":{"name":"boxes"},"mark":{"type":"rect","fill":"white","stroke":"#ff2020","strokeWidth":1.5},"encoding":{"x2":{"field":"day2"},"y2":{"field":"km2"}}},
{"data":{"name":"tags"},"mark":{"type":"text","font":"DejaVu Sans","fontSize":27,"align":"center","baseline":"middle","color":"black"},"encoding":{"text":{"field":"label"}}},
{"data":{"name":"letters"},"mark":{"type":"text","font":"Liberation Sans","fontSize":36,"fontWeight":"bold","align":"center","baseline":"alphabetic","color":"black"},"encoding":{"text":{"field":"label"}}},
{"data":{"name":"count"},"mark":{"type":"text","font":"Liberation Sans","fontSize":16,"fontWeight":"bold","align":"right","baseline":"alphabetic","color":"black"},"encoding":{"text":{"field":"label"}}}
]
}
